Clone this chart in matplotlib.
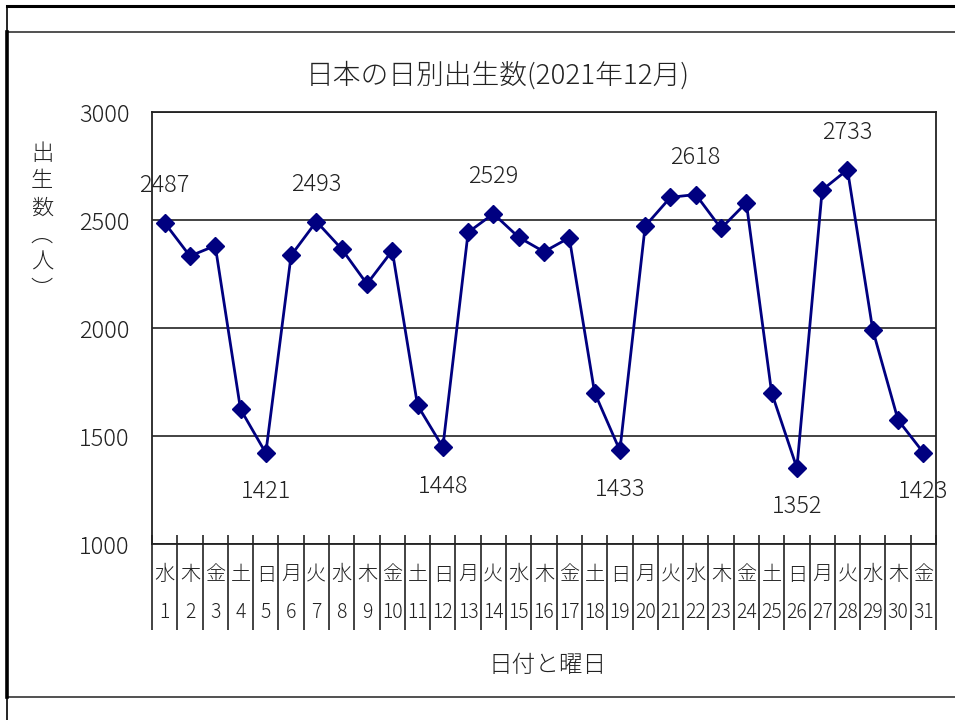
import matplotlib.pyplot as plt
from matplotlib.lines import Line2D
from matplotlib.transforms import blended_transform_factory

plt.rcParams['font.family'] = ['Noto Sans CJK JP', 'DejaVu Sans']
plt.rcParams['font.weight'] = 'light'

# 2021年12月の日別出生数
days = list(range(1, 32))
weekdays = ['水', '木', '金', '土', '日', '月', '火',
            '水', '木', '金', '土', '日', '月', '火',
            '水', '木', '金', '土', '日', '月', '火',
            '水', '木', '金', '土', '日', '月', '火',
            '水', '木', '金']
births = [2487, 2333, 2381, 1624, 1421, 2336, 2493,
          2366, 2204, 2358, 1642, 1448, 2443, 2529,
          2420, 2353, 2418, 1701, 1433, 2472, 2605,
          2618, 2461, 2580, 1701, 1352, 2639, 2733,
          1991, 1574, 1423]

# 値を表示する日 (上側 / 下側)
label_high = [1, 7, 14, 22, 28]
label_low = [5, 12, 19, 26, 31]

W, H = 955, 720
fig = plt.figure(figsize=(W / 100, H / 100), dpi=100)
fig.patch.set_facecolor('white')

# 外枠の線
def fline(x0, y0, x1, y1, lw, color='black'):
    fig.add_artist(Line2D([x0 / W, x1 / W], [1 - y0 / H, 1 - y1 / H],
                          transform=fig.transFigure, color=color, lw=lw))

fline(7, 6, W, 6, 2.2)
fline(7, 32, W, 32, 1.2, '#333333')
fline(7, 697, W, 697, 1.2, '#333333')
fline(7, 6, 7, 32, 1.2)
fline(7, 32, 7, 697, 2.6)
fline(7, 697, 7, H, 1.2)

ax = fig.add_axes([152 / W, 1 - 544 / H, 784 / W, 432 / H])
ax.plot(days, births, color='#000080', lw=2.0, marker='D', markersize=9,
        markerfacecolor='#000080', markeredgecolor='#000080', zorder=3,
        clip_on=False)

ax.set_xlim(0.5, 31.5)
ax.set_ylim(1000, 3000)
ax.set_yticks([1000, 1500, 2000, 2500, 3000])
ax.set_yticklabels(['1000', '1500', '2000', '2500', '3000'], fontsize=17,
                   color='#222222')
ax.tick_params(axis='y', length=0, pad=16)
ax.set_xticks([])
ax.grid(axis='y', color='#222222', lw=1.2)
for s in ax.spines.values():
    s.set_color('#222222')
    s.set_linewidth(1.3)

for d in label_high:
    ax.annotate(str(births[d - 1]), (d, births[d - 1]), xytext=(0, 27),
                textcoords='offset points', ha='center', va='center',
                fontsize=17, color='#222222', zorder=4)
for d in label_low:
    ax.annotate(str(births[d - 1]), (d, births[d - 1]), xytext=(0, -28),
                textcoords='offset points', ha='center', va='center',
                fontsize=17, color='#222222', zorder=4)

# 日付と曜日の表
tr = blended_transform_factory(ax.transData, ax.transAxes)
bounds = [d - 0.5 for d in days] + [31.5]
ax.vlines(bounds, -86 / 432, 9 / 432, transform=tr, color='#222222',
          lw=1.2, clip_on=False)
for d, wd in zip(days, weekdays):
    ax.text(d, -31 / 432, wd, transform=tr, ha='center', va='center',
            fontsize=14.5, color='#222222')
    ax.text(d, -68 / 432, str(d), transform=tr, ha='center', va='center',
            fontsize=14, color='#222222')

fig.text(498 / W, 1 - 75 / H, '日本の日別出生数(2021年12月)', ha='center',
         va='center', fontsize=20, color='#222222')
fig.text(548 / W, 1 - 666 / H, '日付と曜日', ha='center', va='center',
         fontsize=17, color='#222222')
fig.text(42 / W, 1 - 222 / H, '\n'.join('出生数︵人︶'), ha='center',
         va='center', fontsize=16, linespacing=1.3, color='#222222')

fig.savefig('out.png', dpi=100, facecolor='white')
